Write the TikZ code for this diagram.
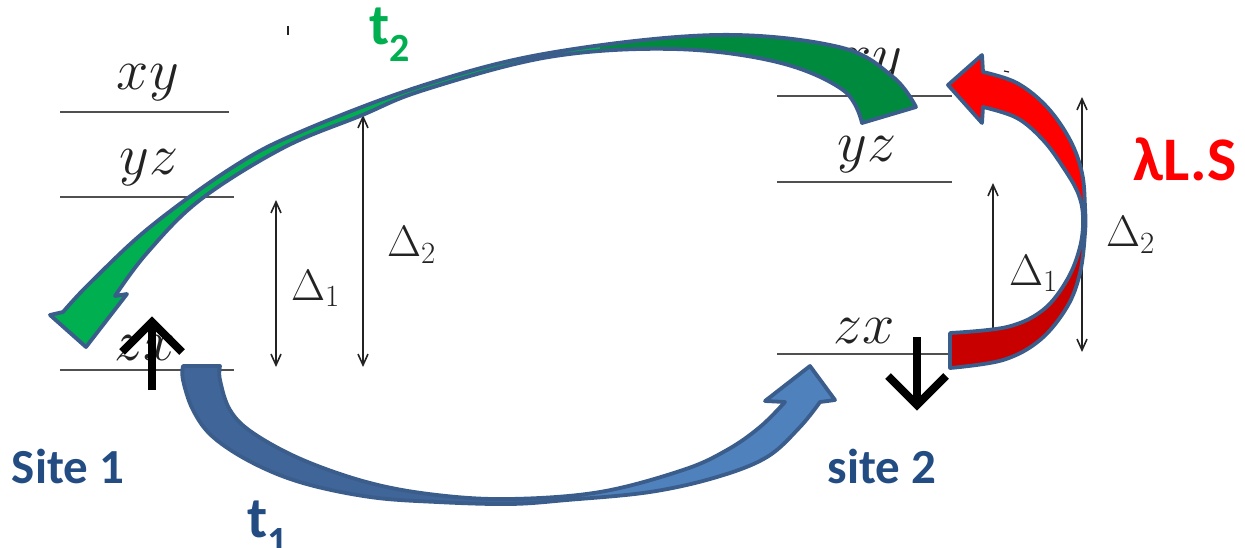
\RequirePackage{fix-cm}
\documentclass[tikz,border=0pt]{standalone}
\usepackage{fontspec}
\newfontfamily\calfont{Carlito}
\usetikzlibrary{arrows.meta}
\definecolor{lvl}{RGB}{80,80,80}
\definecolor{labc}{RGB}{35,35,35}
\definecolor{txtblue}{RGB}{35,76,130}
\definecolor{outl}{RGB}{58,93,140}
\definecolor{gLight}{RGB}{0,176,80}
\definecolor{gDark}{RGB}{0,138,62}
\definecolor{rLight}{RGB}{255,0,0}
\definecolor{rDark}{RGB}{200,0,0}
\definecolor{bDark}{RGB}{64,101,152}
\definecolor{bLight}{RGB}{79,129,189}
\tikzset{
  level/.style={draw=lvl, line width=2.8pt},
  lab/.style={text=labc, inner sep=0pt, anchor=base, font=\fontsize{58}{60}\selectfont},
  dlab/.style={text=labc, inner sep=0pt, anchor=base west, font=\fontsize{44}{46}\selectfont},
  gap/.style={draw=labc, line width=1.6pt, {Straight Barb[length=11pt,width=10pt]}-{Straight Barb[length=11pt,width=10pt]}},
  blk/.style={draw=outl, line width=3.8pt, line join=round},
  spin/.style={draw=black, line width=8pt, line join=miter},
  site/.style={text=txtblue, inner sep=0pt, anchor=base, font=\calfont\bfseries\fontsize{49}{52}\selectfont},
  hop/.style={inner sep=0pt, anchor=base west, font=\calfont\bfseries\fontsize{58}{60}\selectfont}
}
\def\greenpath{plot[smooth, tension=0.6] coordinates {(916,107) (893,77) (839,47) (715,35) (549,53) (424,85) (300,132) (233,167) (150,227) (90,283) (63,312)} -- (50,315) -- (86,347) -- (127,294) -- plot[smooth, tension=0.6] coordinates {(115,296) (147,253) (200,200) (283,148) (360,116) (424,90) (549,57) (673,49) (777,62) (843,90) (862,123)} -- cycle}
\def\redpath{plot[smooth, tension=0.6] coordinates {(950,368) (1003,360) (1040,340) (1067,307) (1080,273) (1085,233) (1085,207) (1082,173) (1070,140) (1047,107) (1017,83) (983,72)} -- (982,55) -- (948,85) -- (982,123) -- plot[smooth, tension=0.6] coordinates {(983,107) (1017,118) (1043,140) (1063,167) (1078,193) (1083,217) (1080,247) (1067,280) (1043,310) (1007,327) (950,333)} -- cycle}
\def\bluepath{plot[smooth, tension=0.6] coordinates {(183,366) (183,380) (193,410) (213,437) (253,463) (303,483) (370,497) (437,502) (510,504) (567,500) (650,492) (717,477) (767,457) (800,427) (820,402)} -- (835,400) -- (810,366) -- (765,401) -- plot[smooth, tension=0.6] coordinates {(785,402) (760,427) (727,450) (683,470) (600,492) (510,499) (437,495) (370,483) (303,460) (253,433) (230,410) (220,380) (220,366)} -- cycle}
\begin{document}
\begin{tikzpicture}[x=1pt,y=-1pt]
\useasboundingbox (0,0) rectangle (1245,548);
% ---------- site 1 levels ----------
\coordinate (L1a) at (60,112); \coordinate (L1b) at (229,112);
\coordinate (L2a) at (60,197); \coordinate (L2b) at (234,197);
\coordinate (L3a) at (60,370); \coordinate (L3b) at (234,370);
\draw[level] (L1a) -- (L1b);
\draw[level] (L2a) -- (L2b);
\draw[level] (L3a) -- (L3b);
\node[lab] (xy1) at (148,90) {$xy$};
\node[lab] (yz1) at (149,175) {$yz$};
\node[lab] (zx1) at (145,360) {$zx$};
\coordinate (d1t) at (276,200); \coordinate (d1b) at (276,367);
\coordinate (d2t) at (363,115); \coordinate (d2b) at (363,367);
\draw[gap] (d1t) -- (d1b);
\draw[gap] (d2t) -- (d2b);
\node[dlab] (D1) at (291,300) {$\Delta_1$};
\node[dlab] (D2) at (387,257) {$\Delta_2$};
\coordinate (tk1) at (288,26); \coordinate (tk2) at (288,35);
\draw[labc, line width=1.5pt] (tk1) -- (tk2);
% ---------- site 2 levels ----------
\coordinate (R1a) at (777,96); \coordinate (R1b) at (952,96);
\coordinate (R2a) at (777,182); \coordinate (R2b) at (952,182);
\coordinate (R3a) at (777,354); \coordinate (R3b) at (950,354);
\draw[level] (R1a) -- (R1b);
\draw[level] (R2a) -- (R2b);
\draw[level] (R3a) -- (R3b);
\node[lab] (xy2) at (871,74) {$xy$};
\node[lab] (yz2) at (867,162) {$yz$};
\node[lab] (zx2) at (864,343) {$zx$};
\coordinate (e1t) at (993,183); \coordinate (e1b) at (993,352);
\coordinate (e2t) at (1082,97); \coordinate (e2b) at (1082,352);
\draw[gap] (e1t) -- (e1b);
\draw[gap] (e2t) -- (e2b);
\node[dlab] (E1) at (1009,285) {$\Delta_1$};
\node[dlab] (E2) at (1106,247) {$\Delta_2$};
\coordinate (tk3) at (1004,71); \coordinate (tk4) at (1009,72);
\draw[labc, line width=1.2pt] (tk3) -- (tk4);
% ---------- green arrow t2 ----------
\fill[gLight] \greenpath;
\begin{scope}
  \clip (600,0) rectangle (1000,200);
  \fill[gDark] \greenpath;
\end{scope}
\draw[blk] \greenpath;
% ---------- red arrow lambda L.S ----------
\fill[rLight] \redpath;
\begin{scope}
  \clip (900,215) rectangle (1120,400);
  \fill[rDark] \redpath;
\end{scope}
\draw[blk] \redpath;
% ---------- blue arrow t1 ----------
\fill[bLight] \bluepath;
\begin{scope}
  \clip (150,340) rectangle (560,520);
  \fill[bDark] \bluepath;
\end{scope}
\draw[blk] \bluepath;
% ---------- spins ----------
\coordinate (u0) at (152,390); \coordinate (u1) at (152,322);
\coordinate (ul) at (122,352); \coordinate (ur) at (182,352);
\draw[spin] (u0) -- (u1);
\draw[spin] (ul) -- (u1) -- (ur);
\coordinate (w0) at (917,337); \coordinate (w1) at (917,405);
\coordinate (wl) at (888,376); \coordinate (wr) at (946,376);
\draw[spin] (w0) -- (w1);
\draw[spin] (wl) -- (w1) -- (wr);
% ---------- texts ----------
\node[site] (s1) at (68,483) {Site 1};
\node[site] (s2) at (882,483) {site 2};
\node[hop, text=gLight] (t2) at (369,45) {t\raisebox{-17pt}{\fontsize{40}{42}\selectfont 2}};
\node[hop, text=txtblue] (t1) at (247,537) {t\raisebox{-17pt}{\fontsize{40}{42}\selectfont 1}};
\node[hop, text=rLight, font=\calfont\bfseries\fontsize{62}{64}\selectfont] (ls) at (1133,181) {λL.S};
\end{tikzpicture}
\end{document}
